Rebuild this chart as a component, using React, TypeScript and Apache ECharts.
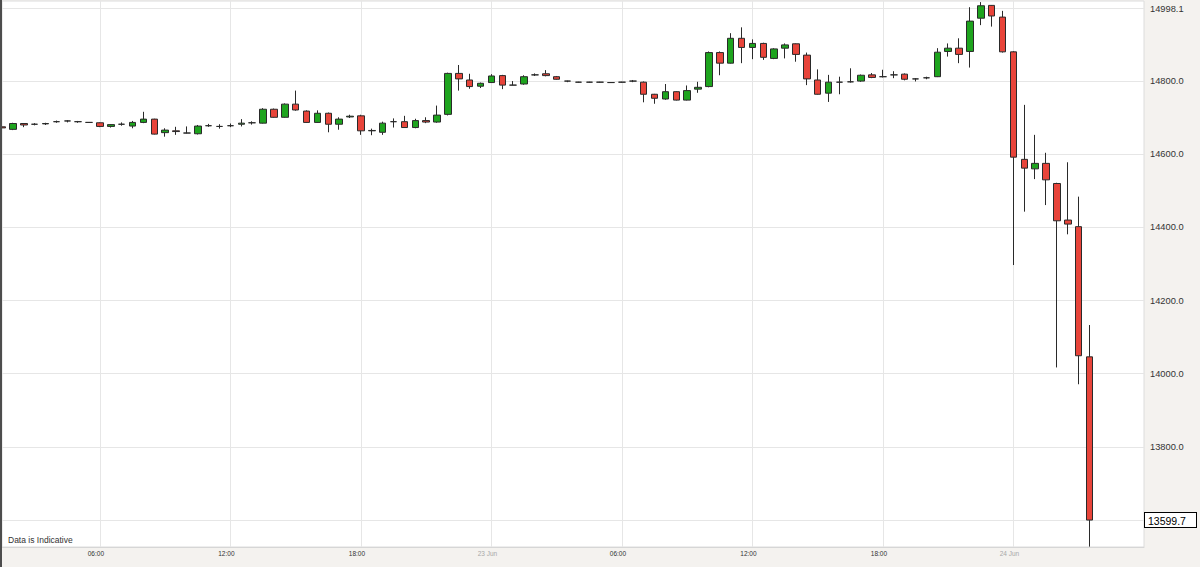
import React, { useEffect, useRef } from "react";
import * as echarts from "echarts";

// 30-minute candles, 22 Jun 01:30 -> 24 Jun 06:00
const times: string[] = [
  "22 Jun 01:30","22 Jun 02:00","22 Jun 02:30","22 Jun 03:00","22 Jun 03:30","22 Jun 04:00","22 Jun 04:30","22 Jun 05:00","22 Jun 05:30",
  "22 Jun 06:00","22 Jun 06:30","22 Jun 07:00","22 Jun 07:30","22 Jun 08:00","22 Jun 08:30","22 Jun 09:00","22 Jun 09:30","22 Jun 10:00","22 Jun 10:30","22 Jun 11:00","22 Jun 11:30",
  "22 Jun 12:00","22 Jun 12:30","22 Jun 13:00","22 Jun 13:30","22 Jun 14:00","22 Jun 14:30","22 Jun 15:00","22 Jun 15:30","22 Jun 16:00","22 Jun 16:30","22 Jun 17:00","22 Jun 17:30",
  "22 Jun 18:00","22 Jun 18:30","22 Jun 19:00","22 Jun 19:30","22 Jun 20:00","22 Jun 20:30","22 Jun 21:00","22 Jun 21:30","22 Jun 22:00","22 Jun 22:30","22 Jun 23:00","22 Jun 23:30",
  "23 Jun 00:00","23 Jun 00:30","23 Jun 01:00","23 Jun 01:30","23 Jun 02:00","23 Jun 02:30","23 Jun 03:00","23 Jun 03:30","23 Jun 04:00","23 Jun 04:30","23 Jun 05:00","23 Jun 05:30",
  "23 Jun 06:00","23 Jun 06:30","23 Jun 07:00","23 Jun 07:30","23 Jun 08:00","23 Jun 08:30","23 Jun 09:00","23 Jun 09:30","23 Jun 10:00","23 Jun 10:30","23 Jun 11:00","23 Jun 11:30",
  "23 Jun 12:00","23 Jun 12:30","23 Jun 13:00","23 Jun 13:30","23 Jun 14:00","23 Jun 14:30","23 Jun 15:00","23 Jun 15:30","23 Jun 16:00","23 Jun 16:30","23 Jun 17:00","23 Jun 17:30",
  "23 Jun 18:00","23 Jun 18:30","23 Jun 19:00","23 Jun 19:30","23 Jun 20:00","23 Jun 20:30","23 Jun 21:00","23 Jun 21:30","23 Jun 22:00","23 Jun 22:30","23 Jun 23:00","23 Jun 23:30",
  "24 Jun 00:00","24 Jun 00:30","24 Jun 01:00","24 Jun 01:30","24 Jun 02:00","24 Jun 02:30","24 Jun 03:00","24 Jun 03:30","24 Jun 04:00","24 Jun 04:30","24 Jun 05:00","24 Jun 05:30",
  "24 Jun 06:00",
];

const opens: number[] = [
  14675, 14668, 14684, 14682, 14683, 14689, 14691, 14689, 14687, 14686,
  14676, 14682, 14677, 14687, 14696, 14659, 14664, 14658, 14656, 14678,
  14676, 14678, 14682, 14686, 14685, 14723, 14701, 14737, 14718, 14687,
  14712, 14682, 14702, 14705, 14664, 14660, 14689, 14689, 14673, 14692,
  14688, 14709, 14821, 14803, 14786, 14796, 14815, 14789, 14792, 14817,
  14820, 14812, 14800, 14797, 14797, 14797, 14796, 14797, 14800, 14797,
  14764, 14751, 14771, 14748, 14778, 14785, 14878, 14849, 14917, 14892,
  14903, 14862, 14890, 14902, 14871, 14803, 14767, 14797, 14798, 14800,
  14817, 14812, 14817, 14819, 14806, 14809, 14812, 14881, 14890, 14881,
  14972, 15007, 14975, 14880, 14586, 14560, 14575, 14520, 14420, 14402,
  14046,
];
const closes: number[] = [
  14672, 14684, 14680, 14682, 14684, 14689, 14691, 14689, 14687, 14676,
  14681, 14682, 14687, 14696, 14655, 14666, 14662, 14658, 14677, 14678,
  14676, 14678, 14685, 14686, 14723, 14701, 14737, 14721, 14687, 14712,
  14682, 14696, 14704, 14664, 14665, 14685, 14689, 14673, 14692, 14688,
  14707, 14821, 14806, 14785, 14794, 14814, 14789, 14789, 14812, 14817,
  14815, 14805, 14800, 14797, 14797, 14797, 14796, 14797, 14800, 14764,
  14753, 14771, 14748, 14774, 14783, 14878, 14849, 14917, 14892, 14903,
  14865, 14888, 14899, 14873, 14806, 14764, 14797, 14797, 14798, 14816,
  14810, 14812, 14817, 14805, 14806, 14809, 14879, 14890, 14873, 14964,
  15006, 14978, 14880, 14592, 14562, 14575, 14530, 14418, 14409, 14049,
  13599.7,
];
const lows: number[] = [
  14670, 14666, 14674, 14679, 14680, 14686, 14687, 14686, 14686, 14674,
  14673, 14678, 14671, 14685, 14654, 14648, 14653, 14657, 14654, 14675,
  14670, 14674, 14676, 14681, 14684, 14700, 14700, 14719, 14686, 14686,
  14660, 14667, 14699, 14653, 14652, 14653, 14673, 14672, 14671, 14685,
  14686, 14706, 14774, 14779, 14781, 14795, 14778, 14789, 14790, 14814,
  14813, 14804, 14797, 14796, 14796, 14796, 14795, 14796, 14797, 14742,
  14738, 14749, 14747, 14747, 14768, 14783, 14816, 14848, 14849, 14860,
  14858, 14860, 14862, 14853, 14789, 14763, 14743, 14764, 14796, 14798,
  14808, 14810, 14808, 14802, 14799, 14805, 14811, 14867, 14849, 14837,
  14953, 14949, 14878, 14297, 14443, 14532, 14461, 14017, 14381, 13971,
  13527,
];
const highs: number[] = [
  14677, 14686, 14685, 14685, 14686, 14692, 14693, 14691, 14688, 14687,
  14682, 14687, 14691, 14716, 14697, 14671, 14675, 14676, 14680, 14683,
  14682, 14684, 14696, 14690, 14726, 14725, 14739, 14774, 14720, 14720,
  14714, 14701, 14708, 14708, 14670, 14689, 14698, 14705, 14697, 14701,
  14733, 14823, 14844, 14820, 14796, 14819, 14817, 14800, 14816, 14821,
  14830, 14814, 14801, 14798, 14798, 14798, 14797, 14798, 14803, 14799,
  14765, 14792, 14772, 14788, 14798, 14881, 14881, 14931, 14947, 14914,
  14905, 14890, 14903, 14903, 14878, 14832, 14817, 14812, 14835, 14818,
  14822, 14831, 14827, 14821, 14808, 14812, 14890, 14903, 14917, 15002,
  15016, 15008, 14992, 14882, 14735, 14653, 14604, 14522, 14578, 14484,
  14133,
];

const gridValues: number[] = [13600, 13800, 14000, 14200, 14400, 14600, 14800, 15000];
const priceLabels: number[] = [13599.7, 13800, 14000, 14200, 14400, 14600, 14800, 14998.1];
const lastPrice = 13599.7;

const FONT = "'Liberation Sans', Arial, sans-serif";

function isMajor(i: number, v: string): boolean {
  if (i >= times.length - 1) return false;
  const t = v.slice(7);
  return t === "00:00" || t === "06:00" || t === "12:00" || t === "18:00";
}

export default function App() {
  const ref = useRef<HTMLDivElement>(null);
  useEffect(() => {
    if (!ref.current) return;
    const chart = echarts.init(ref.current, undefined, { renderer: "svg" });
    const ohlc = times.map((_, i) =>
      i < opens.length ? [opens[i], closes[i], lows[i], highs[i]] : "-"
    );
    chart.setOption({
      animation: false,
      backgroundColor: "#f4f2ef",
      textStyle: { fontFamily: FONT },
      grid: {
        left: 2,
        right: 53,
        top: 1,
        bottom: 20,
        show: true,
        backgroundColor: "#ffffff",
        borderColor: "#dcdcdc",
        borderWidth: 1,
      },
      xAxis: {
        type: "category",
        data: times,
        boundaryGap: false,
        axisLine: { show: true, lineStyle: { color: "#d6d6d6", width: 1 } },
        axisTick: { show: false },
        axisLabel: {
          interval: (i: number, v: string) => isMajor(i, v),
          margin: 3,
          fontSize: 6.5,
          fontFamily: FONT,
          color: "#333",
          padding: [0, 8, 0, 0],
          formatter: (v: string) => {
            const t = v.slice(7);
            if (t === "00:00") return "{d|" + v.slice(0, 6) + "}";
            return "{t|" + t + "}";
          },
          rich: {
            t: { fontSize: 6.5, color: "#333", fontFamily: FONT },
            d: { fontSize: 6.5, color: "#a8a8a8", fontFamily: FONT },
          },
        },
        splitLine: {
          show: true,
          interval: (i: number, v: string) => isMajor(i, v),
          lineStyle: { color: "#e6e6e6", width: 1 },
        },
      },
      yAxis: {
        type: "value",
        position: "right",
        min: 13526,
        max: 15019,
        scale: true,
        axisLine: { show: false },
        axisTick: { show: false, customValues: gridValues },
        splitLine: { show: true, lineStyle: { color: "#e6e6e6", width: 1 } },
        axisLabel: {
          customValues: priceLabels,
          margin: 1,
          fontFamily: FONT,
          formatter: (v: number) =>
            v === lastPrice ? "{b|" + v.toFixed(1) + "}" : "{n|" + v.toFixed(1) + "}",
          rich: {
            n: { fontSize: 9.3, color: "#333", padding: [0, 0, 0, 5], fontFamily: FONT },
            b: {
              fontSize: 10.5,
              color: "#000",
              fontFamily: FONT,
              backgroundColor: "#ffffff",
              borderColor: "#000",
              borderWidth: 1,
              padding: [2, 4, 1, 3],
              width: 44,
            },
          },
        },
      },
      graphic: [
        { type: "rect", left: 0, top: 0, shape: { width: 2, height: 567 }, style: { fill: "#4d4d4d" }, z: 100 },
        {
          type: "text",
          left: 8,
          top: 535,
          style: { text: "Data is Indicative", fontSize: 8.5, fontFamily: FONT, fill: "#333" },
          z: 100,
        },
      ],
      series: [
        {
          type: "candlestick",
          data: ohlc,
          barWidth: 7,
          clip: true,
          itemStyle: {
            color: "#1ea41e",
            color0: "#e8443a",
            borderColor: "#2a2a2a",
            borderColor0: "#2a2a2a",
            borderWidth: 1,
          },
        },
      ],
    });
    return () => chart.dispose();
  }, []);
  return (
    <div
      ref={ref}
      style={{ position: "fixed", left: 0, top: 0, width: 1200, height: 567 }}
    />
  );
}
